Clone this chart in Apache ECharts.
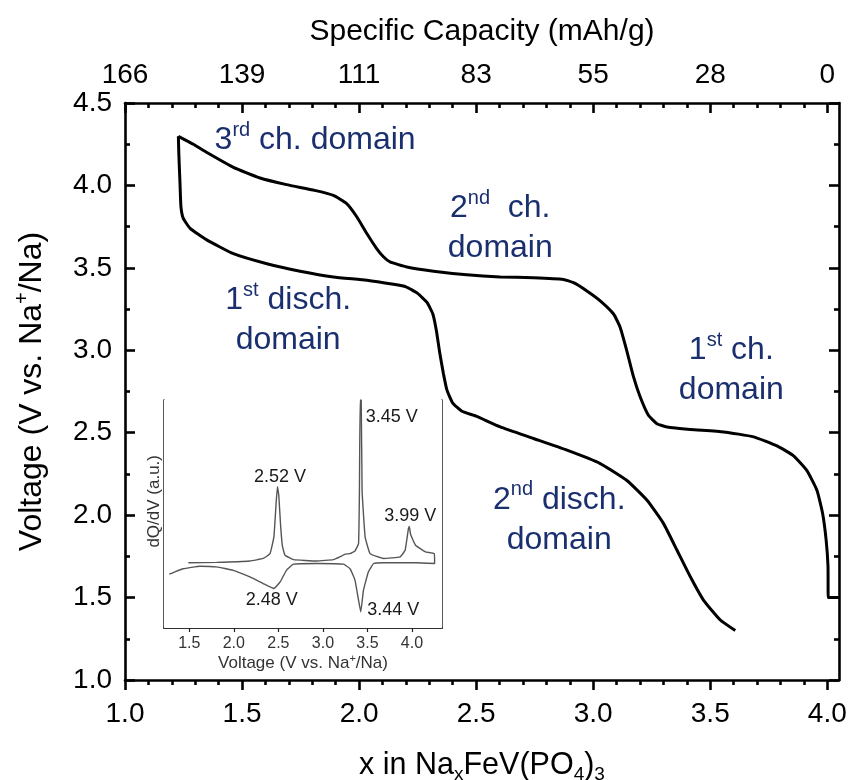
<!DOCTYPE html>
<html><head><meta charset="utf-8">
<script src="https://cdn.jsdelivr.net/npm/echarts@6/dist/echarts.min.js"></script>
<style>html,body{margin:0;padding:0;background:#fff}#c{width:851px;height:780px}</style>
</head><body><div id="c"></div>
<script>
// ---- main axis ticks ----
const xMajorTicks = [1.0, 1.5, 2.0, 2.5, 3.0, 3.5, 4.0];
const xMinorTicks = [1.1,1.2,1.3,1.4,1.6,1.7,1.8,1.9,2.1,2.2,2.3,2.4,2.6,2.7,2.8,2.9,3.1,3.2,3.3,3.4,3.6,3.7,3.8,3.9];
const capacityLabels = ['166', '139', '111', '83', '55', '28', '0'];
// ---- first charge curve (x in NaxFeV(PO4)3, voltage) ----
const chargeX = [4.05,4.004,4.003,3.995,3.98,3.956,3.913,3.856,3.785,3.685,3.557,3.415,3.315,3.272,3.236,3.2,3.172,3.143,3.115,3.087,3.03,2.973,2.916,2.873,2.745,2.603,2.46,2.318,2.204,2.132,2.104,2.075,2.033,1.99,1.947,1.89,1.81,1.69,1.577,1.463,1.35,1.292,1.228];
const chargeV = [1.5,1.5,1.69,1.85,2.01,2.15,2.27,2.36,2.42,2.475,2.505,2.52,2.535,2.555,2.606,2.72,2.84,3.0,3.14,3.22,3.30,3.36,3.41,3.43,3.44,3.445,3.458,3.48,3.505,3.536,3.567,3.617,3.708,3.81,3.89,3.94,3.97,4.005,4.045,4.11,4.2,4.25,4.298];
// ---- discharge curve ----
const dischargeX = [1.228,1.23,1.235,1.239,1.249,1.278,1.349,1.463,1.606,1.748,1.89,2.033,2.147,2.20,2.25,2.29,2.315,2.33,2.345,2.36,2.375,2.40,2.44,2.50,2.603,2.745,2.888,3.03,3.144,3.23,3.30,3.357,3.415,3.471,3.543,3.607];
const dischargeV = [4.298,4.19,4.01,3.87,3.80,3.74,3.67,3.586,3.525,3.48,3.445,3.425,3.40,3.385,3.345,3.29,3.22,3.12,2.98,2.86,2.76,2.68,2.63,2.60,2.535,2.465,2.394,2.313,2.21,2.09,1.95,1.79,1.626,1.485,1.364,1.30];
// ---- inset dQ/dV (voltage, arbitrary units) ----
const insetTicks = [1.5, 2.0, 2.5, 3.0, 3.5, 4.0];
const insetV = [1.489,1.807,2.18,2.33,2.406,2.45,2.475,2.49,2.505,2.525,2.545,2.575,2.67,2.93,3.118,3.19,3.25,3.305,3.36,3.40,3.41,3.418,3.43,3.44,3.474,3.53,3.68,3.867,3.923,3.96,3.97,3.985,4.04,4.15,4.25,4.254,4.05,3.68,3.57,3.51,3.455,3.425,3.40,3.36,3.305,3.23,2.93,2.67,2.59,2.52,2.45,2.33,2.18,1.994,1.807,1.62,1.43,1.339,1.275];
const insetDQ = [28.6,28.8,29.4,30.5,32.6,40,55,62,58,45,36,31.9,30,29.4,30,31.2,32.4,32.6,33.8,37,60,100,100,60,40,32.6,30.5,31.2,34.1,43.6,44.5,41,36.3,33.4,32.6,28.3,28.6,28.6,28.3,24.6,16.5,7,12.2,21,26,28,28.3,28,25.3,20.2,17.3,19.5,22.4,25.3,26.8,27.1,26,24.6,23.6];
// ---- annotations ----
const domainX = [1.812, 2.603, 1.697, 3.59, 2.855];
const domainY = [4.275, 3.74, 3.18, 2.88, 1.972];
const domainText = ['3{sup|rd} ch. domain', '2{sup|nd}  ch.\ndomain', '1{sup|st} disch.\ndomain', '1{sup|st} ch.\ndomain', '2{sup|nd} disch.\ndomain'];
const peakV = [3.774, 2.519, 3.98, 2.426, 3.79];
const peakY = [92.7, 66.3, 49, 12.2, 7.8];
const peakText = ['3.45 V', '2.52 V', '3.99 V', '2.48 V', '3.44 V'];

const FF = "'Liberation Sans', Arial, sans-serif";
const zip = (a, b) => a.map((v, i) => [v, b[i]]);

const chart = echarts.init(document.getElementById('c'), null, {renderer: 'canvas'});
const axLine = {show: true, lineStyle: {color: '#000', width: 2.6}};
const mainXBase = {gridIndex: 0, type: 'value', min: 1, max: 4.05, splitLine: {show: false}};
const option = {
  animation: false,
  backgroundColor: '#fff',
  grid: [
    {left: 125, right: 12, top: 103, bottom: 100, containLabel: false, outerBoundsMode: 'none'},
    {left: 164, top: 400, width: 278, height: 228, show: true, backgroundColor: '#fff', borderWidth: 0, z: 5,
      containLabel: false, outerBoundsMode: 'none'}
  ],
  xAxis: [
    Object.assign({}, mainXBase, {
      position: 'bottom', axisLine: axLine,
      axisTick: {customValues: xMajorTicks, length: 10, inside: false, lineStyle: {width: 2.6, color: '#000'}},
      axisLabel: {customValues: xMajorTicks, formatter: v => v.toFixed(1), fontSize: 28, fontFamily: FF, color: '#000', margin: 20},
      name: 'x in Na{sub|x}FeV(PO{sub|4}){sub|3}', nameLocation: 'middle', nameGap: 67,
      nameTextStyle: {fontSize: 30.5, fontFamily: FF, color: '#000',
        rich: {sub: {fontSize: 19, fontFamily: FF, color: '#000', padding: [18, 0, 0, 0]}}}
    }),
    Object.assign({}, mainXBase, {
      position: 'bottom', axisLine: {show: false},
      axisTick: {customValues: xMinorTicks, length: 5, inside: false, lineStyle: {width: 2.6, color: '#000'}},
      axisLabel: {show: false}
    }),
    Object.assign({}, mainXBase, {
      position: 'top', axisLine: axLine,
      axisTick: {customValues: xMajorTicks, length: 10, inside: true, lineStyle: {width: 2.6, color: '#000'}},
      axisLabel: {customValues: xMajorTicks, formatter: v => capacityLabels[Math.round((v - 1) * 2)], fontSize: 28, fontFamily: FF, color: '#000', margin: 14},
      name: 'Specific Capacity (mAh/g)', nameLocation: 'middle', nameGap: 56,
      nameTextStyle: {fontSize: 30, fontFamily: FF, color: '#000'}
    }),
    Object.assign({}, mainXBase, {
      position: 'top', axisLine: {show: false},
      axisTick: {customValues: xMinorTicks, length: 5, inside: true, lineStyle: {width: 2.6, color: '#000'}},
      axisLabel: {show: false}
    }),
    {gridIndex: 1, type: 'value', min: 1.216, max: 4.337, position: 'bottom', splitLine: {show: false},
      axisLine: {show: true, lineStyle: {color: '#222', width: 1.5}},
      axisTick: {customValues: insetTicks, inside: true, length: 4, lineStyle: {color: '#222', width: 1.2}},
      axisLabel: {customValues: insetTicks, formatter: v => v.toFixed(1), fontSize: 16, fontFamily: FF, color: '#333', margin: 8},
      name: 'Voltage (V vs. Na{sup|+}/Na)', nameLocation: 'middle', nameGap: 25,
      nameTextStyle: {fontSize: 17, fontFamily: FF, color: '#333',
        rich: {sup: {fontSize: 11, fontFamily: FF, color: '#333', padding: [0, 0, 10, 0]}}}
    },
    {gridIndex: 1, type: 'value', min: 1.216, max: 4.337, position: 'top', splitLine: {show: false},
      axisLine: {show: true, lineStyle: {color: '#222', width: 1.5}},
      axisTick: {customValues: insetTicks, inside: true, length: 4, lineStyle: {color: '#222', width: 1.2}},
      axisLabel: {show: false}
    }
  ],
  yAxis: [
    {gridIndex: 0, type: 'value', min: 1, max: 4.5, interval: 0.5, position: 'left', splitLine: {show: false},
      axisLine: axLine,
      axisTick: {inside: true, length: 10, lineStyle: {width: 2.6, color: '#000'}},
      minorTick: {show: true, splitNumber: 2, length: 5, lineStyle: {width: 2.6, color: '#000'}},
      axisLabel: {formatter: v => v.toFixed(1), fontSize: 28, fontFamily: FF, color: '#000', margin: 13},
      name: 'Voltage (V vs. Na{sup|+}/Na)', nameLocation: 'middle', nameGap: 73,
      nameTextStyle: {fontSize: 32, fontFamily: FF, color: '#000',
        rich: {sup: {fontSize: 20, fontFamily: FF, color: '#000', padding: [0, 0, 20, 0]}}}
    },
    {gridIndex: 0, type: 'value', min: 1, max: 4.5, interval: 0.5, position: 'right', splitLine: {show: false},
      axisLine: axLine,
      axisTick: {inside: true, length: 10, lineStyle: {width: 2.6, color: '#000'}},
      minorTick: {show: true, splitNumber: 2, length: 5, lineStyle: {width: 2.6, color: '#000'}},
      axisLabel: {show: false}
    },
    {gridIndex: 1, type: 'value', min: 0, max: 100, position: 'left', splitLine: {show: false},
      axisLine: {show: true, lineStyle: {color: '#222', width: 1.5}}, axisTick: {show: false}, axisLabel: {show: false}},
    {gridIndex: 1, type: 'value', min: 0, max: 100, position: 'right', splitLine: {show: false},
      axisLine: {show: true, lineStyle: {color: '#222', width: 1.5}}, axisTick: {show: false}, axisLabel: {show: false}}
  ],
  series: [
    {type: 'line', xAxisIndex: 0, yAxisIndex: 0, data: zip(chargeX, chargeV), showSymbol: false, smooth: 0.15,
      lineStyle: {color: '#000', width: 3}, z: 3},
    {type: 'line', xAxisIndex: 0, yAxisIndex: 0, data: zip(dischargeX, dischargeV), showSymbol: false, smooth: 0.15,
      lineStyle: {color: '#000', width: 3}, z: 3},
    {type: 'line', xAxisIndex: 4, yAxisIndex: 2, data: zip(insetV, insetDQ), showSymbol: false, smooth: 0.1, clip: true,
      lineStyle: {color: '#555', width: 1.4}, z: 6},
    {type: 'scatter', xAxisIndex: 0, yAxisIndex: 0, symbolSize: 0, silent: true, z: 8, itemStyle: {opacity: 1},
      data: domainX.map((x, i) => ({value: [x, domainY[i]], label: {formatter: domainText[i]}})),
      label: {show: true, position: 'inside', fontSize: 32, lineHeight: 40, fontFamily: FF, color: '#1a2f6e', opacity: 1, align: 'center',
        rich: {sup: {fontSize: 20, lineHeight: 20, fontFamily: FF, color: '#1a2f6e', padding: [0, 0, 20, 0]}}}
    },
    {type: 'scatter', xAxisIndex: 4, yAxisIndex: 2, symbolSize: 0, silent: true, z: 9, itemStyle: {opacity: 1},
      data: peakV.map((x, i) => ({value: [x, peakY[i]], label: {formatter: peakText[i]}})),
      label: {show: true, position: 'inside', fontSize: 18, fontFamily: FF, color: '#1a1a1a', opacity: 1}
    }
  ],
  graphic: [
    {type: 'text', left: 146, top: 455, z: 10,
      style: {text: 'dQ/dV (a.u.)', fontSize: 17, fontFamily: FF, fill: '#333'}, rotation: Math.PI / 2, originX: 0, originY: 0}
  ]
};
chart.setOption(option);
</script></body></html>
